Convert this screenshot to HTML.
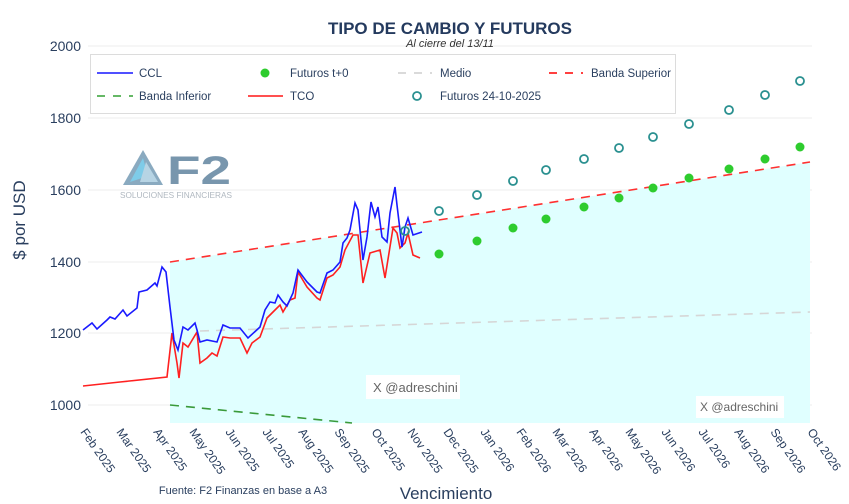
<!DOCTYPE html>
<html><head><meta charset="utf-8"><style>
body{margin:0;background:#fff}
svg{display:block;font-family:"Liberation Sans",Arial,sans-serif}
</style></head><body>
<svg width="849" height="504" viewBox="0 0 849 504" xmlns="http://www.w3.org/2000/svg">
<g stroke="#ececec" stroke-width="1">
<line x1="88" x2="812" y1="46" y2="46"/><line x1="88" x2="812" y1="118" y2="118"/>
<line x1="88" x2="812" y1="190" y2="190"/><line x1="88" x2="812" y1="262" y2="262"/>
<line x1="88" x2="812" y1="333" y2="333"/><line x1="88" x2="812" y1="405" y2="405"/>
</g>
<g fill="#2a3f5f" font-size="14" text-anchor="end">
<text x="81" y="51">2000</text><text x="81" y="123">1800</text><text x="81" y="195">1600</text>
<text x="81" y="267">1400</text><text x="81" y="338">1200</text><text x="81" y="410">1000</text>
</g>
<polygon points="170,262 810,162 810,423 170,423" fill="#e0ffff"/>
<line x1="170" y1="262" x2="810" y2="162" stroke="#ff3030" stroke-width="1.6" stroke-dasharray="9,7"/>
<line x1="170" y1="405" x2="352" y2="423" stroke="#3a9a3a" stroke-width="1.6" stroke-dasharray="9,7"/>
<line x1="200" y1="331" x2="810" y2="312" stroke="#d6d6d6" stroke-width="1.6" stroke-dasharray="9,7"/>
<rect x="366" y="375" width="94" height="24" fill="#fff"/>
<text x="373" y="392" font-size="13" fill="#666">X @adreschini</text>
<rect x="696" y="396" width="88" height="22" fill="#fff"/>
<text x="700" y="411" font-size="12" fill="#666">X @adreschini</text>
<polyline fill="none" stroke="#ff2020" stroke-width="1.6" points="83,386 120,382 167,377 172,333 177,363 179,378 183,343 188,347 197,332 200,363 207,358 212,353 217,356 223,337 230,338 240,338 247,353 252,343 260,337 267,318 273,312 280,305 283,312 290,300 295,298 298,272 307,287 317,298 320,300 327,278 333,275 340,267 345,250 353,235 358,235 363,283 370,253 380,250 385,278 393,228 397,233 400,248 405,243 408,233 413,255 420,258"/>
<polyline fill="none" stroke="#1a1aff" stroke-width="1.6" points="83,330 92,323 97,329 107,320 110,317 115,319 123,310 127,316 137,308 139,292 147,290 155,283 157,286 162,267 166,272 170,307 174,340 178,350 183,327 188,330 195,323 197,330 200,342 207,340 217,342 223,325 230,328 240,328 248,338 260,327 265,310 270,302 275,303 278,295 283,302 287,306 293,293 298,270 307,282 317,292 320,293 327,273 333,270 340,262 343,243 347,238 350,230 355,203 358,210 363,260 367,237 371,202 375,217 378,207 382,237 387,242 390,213 395,187 397,205 402,247 405,227 408,218 413,235 422,232"/>
<g fill="#2ecc2e">
<circle cx="439" cy="254" r="4.5"/><circle cx="477" cy="241" r="4.5"/><circle cx="513" cy="228" r="4.5"/><circle cx="546" cy="219" r="4.5"/><circle cx="584" cy="207" r="4.5"/><circle cx="619" cy="198" r="4.5"/><circle cx="653" cy="188" r="4.5"/><circle cx="689" cy="178" r="4.5"/><circle cx="729" cy="169" r="4.5"/><circle cx="765" cy="159" r="4.5"/><circle cx="800" cy="147" r="4.5"/>
</g>
<g fill="none" stroke="#2a9090" stroke-width="1.8">
<circle cx="405" cy="231" r="4"/>
<circle cx="439" cy="211" r="4"/><circle cx="477" cy="195" r="4"/><circle cx="513" cy="181" r="4"/><circle cx="546" cy="170" r="4"/><circle cx="584" cy="159" r="4"/><circle cx="619" cy="148" r="4"/><circle cx="653" cy="137" r="4"/><circle cx="689" cy="124" r="4"/><circle cx="729" cy="110" r="4"/><circle cx="765" cy="95" r="4"/><circle cx="800" cy="81" r="4"/>
</g>
<g>
<polygon points="143,150 123,185 163,185" fill="#8aaac0"/>
<polygon points="143,158 130,182 148,176" fill="#7ecbe8"/>
<polygon points="146,162 158,182 140,182" fill="#b7d4e4"/>
<text x="167" y="184" font-size="40" font-weight="bold" fill="#7896ad" textLength="64" lengthAdjust="spacingAndGlyphs">F2</text>
<text x="120" y="198" font-size="8.5" fill="#b0b8c0" textLength="112" lengthAdjust="spacingAndGlyphs">SOLUCIONES FINANCIERAS</text>
</g>
<rect x="90.5" y="54.5" width="585" height="59" fill="#fff" stroke="#dcdcdc"/>
<g font-size="11.5" fill="#2a3f5f">
<line x1="97" x2="133" y1="73" y2="73" stroke="#5050ff" stroke-width="2"/><text x="139" y="77">CCL</text>
<circle cx="265" cy="73" r="4.5" fill="#2ecc2e"/><text x="290" y="77">Futuros t+0</text>
<line x1="398" x2="432" y1="73" y2="73" stroke="#dadada" stroke-width="2" stroke-dasharray="8,8"/><text x="440" y="77">Medio</text>
<line x1="549" x2="583" y1="73" y2="73" stroke="#ff4040" stroke-width="2" stroke-dasharray="8,8"/><text x="591" y="77">Banda Superior</text>
<line x1="97" x2="133" y1="96" y2="96" stroke="#66b866" stroke-width="2" stroke-dasharray="8,8"/><text x="139" y="100">Banda Inferior</text>
<line x1="248" x2="283" y1="96" y2="96" stroke="#ff5050" stroke-width="2"/><text x="290" y="100">TCO</text>
<circle cx="417" cy="96" r="4" fill="none" stroke="#2a9090" stroke-width="1.8"/><text x="440" y="100">Futuros 24-10-2025</text>
</g>
<text x="450" y="34" font-size="17" font-weight="bold" fill="#243a5e" text-anchor="middle">TIPO DE CAMBIO Y FUTUROS</text>
<text x="450" y="47" font-size="11" font-style="italic" fill="#333" text-anchor="middle">Al cierre del 13/11</text>
<text transform="translate(25,220) rotate(-90)" font-size="17" fill="#2a3f5f" text-anchor="middle">$ por USD</text>
<text x="446" y="499" font-size="17" fill="#2a3f5f" text-anchor="middle">Vencimiento</text>
<text x="243" y="494" font-size="11" fill="#2a3f5f" text-anchor="middle">Fuente: F2 Finanzas en base a A3</text>
<g font-size="12" fill="#2a3f5f">
<text transform="translate(80,432) rotate(55)">Feb 2025</text>
<text transform="translate(116,432) rotate(55)">Mar 2025</text>
<text transform="translate(153,432) rotate(55)">Apr 2025</text>
<text transform="translate(189,432) rotate(55)">May 2025</text>
<text transform="translate(225,432) rotate(55)">Jun 2025</text>
<text transform="translate(262,432) rotate(55)">Jul 2025</text>
<text transform="translate(298,432) rotate(55)">Aug 2025</text>
<text transform="translate(334,432) rotate(55)">Sep 2025</text>
<text transform="translate(371,432) rotate(55)">Oct 2025</text>
<text transform="translate(407,432) rotate(55)">Nov 2025</text>
<text transform="translate(443,432) rotate(55)">Dec 2025</text>
<text transform="translate(480,432) rotate(55)">Jan 2026</text>
<text transform="translate(516,432) rotate(55)">Feb 2026</text>
<text transform="translate(552,432) rotate(55)">Mar 2026</text>
<text transform="translate(589,432) rotate(55)">Apr 2026</text>
<text transform="translate(625,432) rotate(55)">May 2026</text>
<text transform="translate(661,432) rotate(55)">Jun 2026</text>
<text transform="translate(698,432) rotate(55)">Jul 2026</text>
<text transform="translate(734,432) rotate(55)">Aug 2026</text>
<text transform="translate(770,432) rotate(55)">Sep 2026</text>
<text transform="translate(807,432) rotate(55)">Oct 2026</text>
</g>
</svg>
</body></html>
